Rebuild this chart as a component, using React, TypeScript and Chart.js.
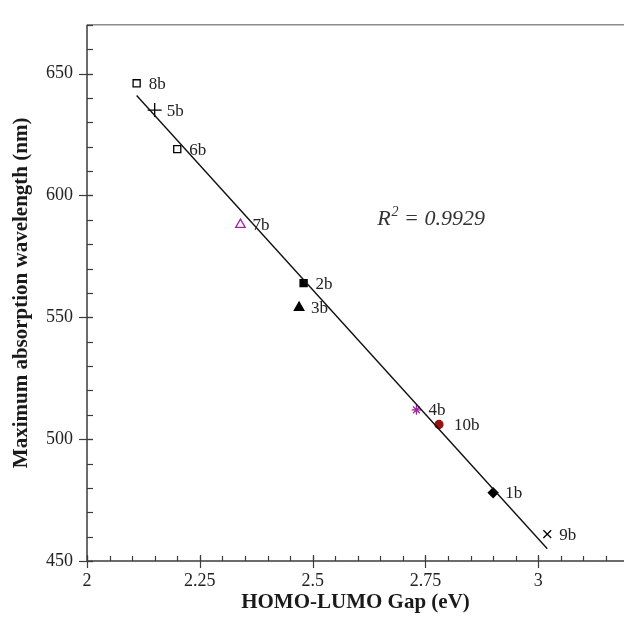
import React, { useEffect, useRef } from "react";
import { Chart, registerables } from "chart.js";

Chart.register(...registerables);

// ---- data ----
const compoundLabels = ["1b", "2b", "3b", "4b", "5b", "6b", "7b", "8b", "9b", "10b"];
const gapValues = [2.9, 2.48, 2.47, 2.73, 2.15, 2.2, 2.34, 2.11, 3.02, 2.78];
const wavelengthValues = [478, 564, 554, 512, 635, 619, 588, 646, 461, 506];

const fitLineX = [2.11, 3.02];
const fitLineY = [641, 455];

const xTickValues = [2, 2.25, 2.5, 2.75, 3];
const xTickLabels = ["2", "2.25", "2.5", "2.75", "3"];
const yTickValues = [450, 500, 550, 600, 650];
const yTickLabels = ["450", "500", "550", "600", "650"];

const rSquaredValue = "0.9929";

// ---- styles ----
const PURPLE = "#a0289f";
const DARKRED = "#9e1010";
const pointStyles = ["rectRot", "rect", "triangle", "star", "cross", "rect", "triangle", "rect", "crossRot", "circle"];
const pointFills = ["#000", "#000", "#000", PURPLE, "#000", "#fff", "#fff", "#fff", "#000", DARKRED];
const pointBorders = ["#000", "#000", "#000", PURPLE, "#000", "#000", PURPLE, "#000", "#000", DARKRED];
const pointRadii = [4.8, 5, 5.5, 4.8, 7, 5, 5.5, 5, 5.5, 4];
const labelGapDefault = 12;
const labelGapWide = 15; // 10b label sits a bit farther from its marker

const SERIF = "'Liberation Serif', 'Times New Roman', serif";

export default function App() {
  const ref = useRef<HTMLCanvasElement>(null);

  useEffect(() => {
    const canvas = ref.current;
    if (!canvas) return;

    const axisPlugin = {
      id: "axisPlugin",
      afterDraw(chart: any) {
        const { ctx, chartArea: a, scales } = chart;
        const xs = scales.x;
        const ys = scales.y;
        ctx.save();
        // top frame line
        ctx.strokeStyle = "#8c8c8c";
        ctx.lineWidth = 1.5;
        ctx.beginPath();
        ctx.moveTo(a.left, a.top);
        ctx.lineTo(a.right, a.top);
        ctx.stroke();

        ctx.strokeStyle = "#3c3c3c";
        ctx.lineWidth = 1.5;
        ctx.beginPath();
        ctx.moveTo(a.left, a.top);
        ctx.lineTo(a.left, a.bottom);
        ctx.lineTo(a.right, a.bottom);
        ctx.stroke();

        ctx.lineWidth = 1.2;
        // x minor ticks (every 0.05)
        for (let i = 0; ; i++) {
          const v = 2 + i * 0.05;
          if (v > xs.max) break;
          const px = Math.round(xs.getPixelForValue(v)) + 0.5;
          ctx.beginPath();
          ctx.moveTo(px, a.bottom - 5);
          ctx.lineTo(px, a.bottom);
          ctx.stroke();
        }
        // x major ticks
        xTickValues.forEach((v) => {
          const px = Math.round(xs.getPixelForValue(v)) + 0.5;
          ctx.beginPath();
          ctx.moveTo(px, a.bottom - 6);
          ctx.lineTo(px, a.bottom + 7);
          ctx.stroke();
        });
        // y minor ticks (every 10)
        for (let i = 0; ; i++) {
          const v = 450 + i * 10;
          if (v > ys.max) break;
          const py = Math.round(ys.getPixelForValue(v)) + 0.5;
          ctx.beginPath();
          ctx.moveTo(a.left, py);
          ctx.lineTo(a.left + 6, py);
          ctx.stroke();
        }
        // y major ticks
        yTickValues.forEach((v) => {
          const py = Math.round(ys.getPixelForValue(v)) + 0.5;
          ctx.beginPath();
          ctx.moveTo(a.left - 8, py);
          ctx.lineTo(a.left + 6, py);
          ctx.stroke();
        });

        // R^2 annotation
        const rx = xs.getPixelForValue(2.643);
        const ry = ys.getPixelForValue(588);
        ctx.fillStyle = "#333";
        ctx.textBaseline = "alphabetic";
        ctx.textAlign = "left";
        ctx.font = `italic 22px ${SERIF}`;
        ctx.fillText("R", rx, ry);
        let cx = rx + ctx.measureText("R").width + 1;
        ctx.font = `italic 14px ${SERIF}`;
        ctx.fillText("2", cx, ry - 9);
        cx += ctx.measureText("2").width;
        ctx.font = `italic 22px ${SERIF}`;
        ctx.fillText(" = " + rSquaredValue, cx, ry);
        ctx.restore();
      },
      afterDatasetsDraw(chart: any) {
        const { ctx } = chart;
        const meta = chart.getDatasetMeta(1);
        ctx.save();
        ctx.fillStyle = "#222";
        ctx.font = `17px ${SERIF}`;
        ctx.textBaseline = "middle";
        ctx.textAlign = "left";
        meta.data.forEach((el: any, i: number) => {
          const gap = compoundLabels[i] === "10b" ? labelGapWide : labelGapDefault;
          ctx.fillText(compoundLabels[i], el.x + gap, el.y + 1);
        });
        ctx.restore();
      },
    };

    const chart = new Chart(canvas, {
      type: "scatter",
      data: {
        datasets: [
          {
            type: "line",
            label: "fit",
            data: fitLineX.map((x, i) => ({ x, y: fitLineY[i] })),
            borderColor: "#111",
            borderWidth: 1.4,
            pointRadius: 0,
            fill: false,
            tension: 0,
          } as any,
          {
            label: "compounds",
            data: gapValues.map((x, i) => ({ x, y: wavelengthValues[i] })),
            pointStyle: pointStyles as any,
            backgroundColor: pointFills,
            borderColor: pointBorders,
            pointBackgroundColor: pointFills,
            pointBorderColor: pointBorders,
            pointRadius: pointRadii,
            pointBorderWidth: 1.3,
          } as any,
        ],
      },
      options: {
        animation: false,
        responsive: false,
        clip: false as any,
        layout: { autoPadding: false, padding: { top: 14, left: 0, right: 0, bottom: 0 } } as any,
        plugins: {
          legend: { display: false },
          tooltip: { enabled: false },
        },
        scales: {
          x: {
            type: "linear",
            min: 2,
            max: 3.19,
            grid: { display: false, drawTicks: false },
            border: { display: false },
            afterBuildTicks: (s: any) => {
              s.ticks = xTickValues.map((v) => ({ value: v }));
            },
            afterFit: (s: any) => {
              s.height = 57;
              s.paddingLeft = 0;
              s.paddingRight = 0;
            },
            ticks: {
              autoSkip: false,
              maxRotation: 0,
              padding: 9,
              color: "#222",
              font: { family: SERIF, size: 18 },
              callback: (v: any) => {
                const i = xTickValues.indexOf(Number(v));
                return i >= 0 ? xTickLabels[i] : "";
              },
            },
            title: {
              display: true,
              text: "HOMO-LUMO Gap (eV)",
              color: "#1a1a1a",
              font: { family: SERIF, size: 21, weight: "bold" },
              padding: { top: 0, bottom: 3 },
            },
          },
          y: {
            type: "linear",
            min: 450,
            max: 670,
            grid: { display: false, drawTicks: false },
            border: { display: false },
            afterBuildTicks: (s: any) => {
              s.ticks = yTickValues.map((v) => ({ value: v }));
            },
            afterFit: (s: any) => {
              s.width = 87;
            },
            ticks: {
              autoSkip: false,
              padding: 14,
              color: "#222",
              font: { family: SERIF, size: 18 },
              callback: (v: any) => {
                const i = yTickValues.indexOf(Number(v));
                return i >= 0 ? yTickLabels[i] : "";
              },
            },
            title: {
              display: true,
              text: "Maximum absorption wavelength (nm)",
              color: "#1a1a1a",
              font: { family: SERIF, size: 21, weight: "bold" },
              padding: { top: 9, bottom: 0 },
            },
          },
        },
      },
      plugins: [axisPlugin],
    });

    return () => chart.destroy();
  }, []);

  return (
    <div style={{ position: "absolute", left: 0, top: 0, width: 624, height: 618, background: "#fff" }}>
      <canvas ref={ref} width={624} height={618} style={{ display: "block" }} />
    </div>
  );
}
